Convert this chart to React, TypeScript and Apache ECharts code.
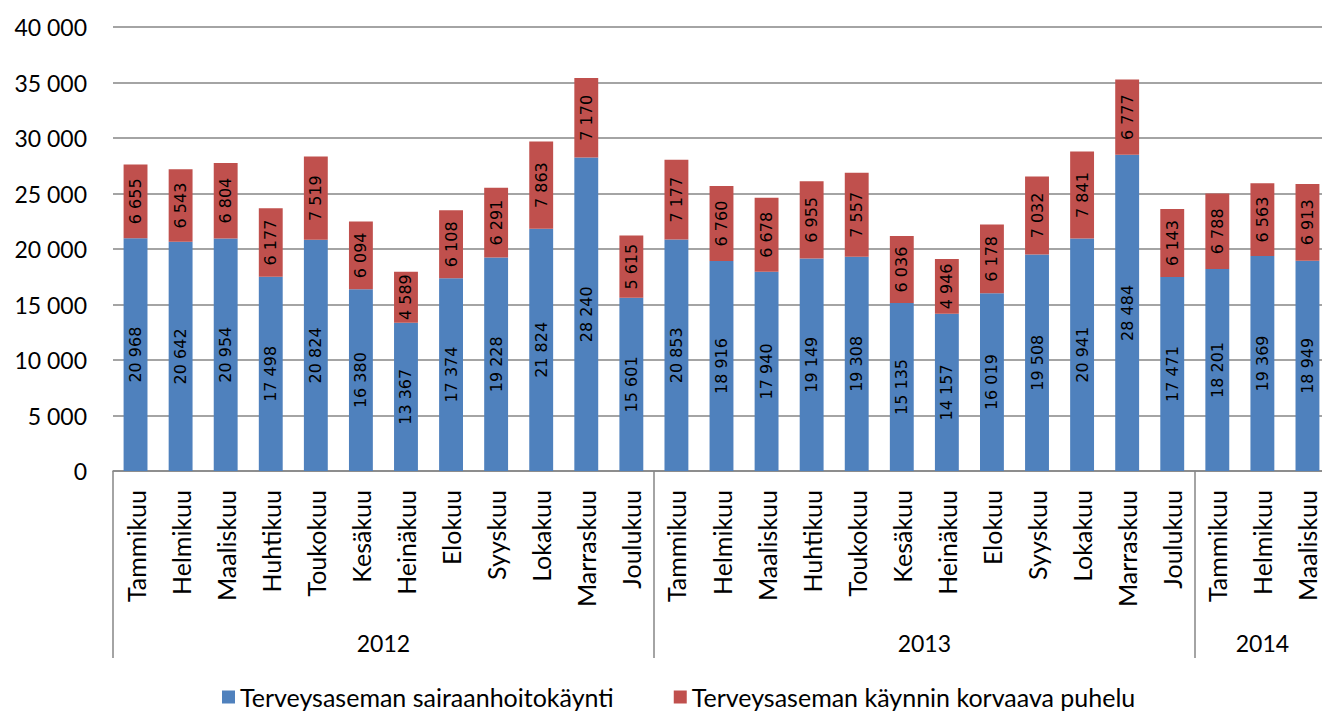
import React, { useEffect, useRef } from "react";
import * as echarts from "echarts";

const months = [
  "Tammikuu", "Helmikuu", "Maaliskuu", "Huhtikuu", "Toukokuu", "Kesäkuu",
  "Heinäkuu", "Elokuu", "Syyskuu", "Lokakuu", "Marraskuu", "Joulukuu",
];
const categories = [...months, ...months, ...months.slice(0, 3)];
const years = ["2012", "2013", "2014"];
const yearBounds = [0, 12, 24, 27];
const yearCenters = [6, 18, 25.5];

const visits = [
  20968, 20642, 20954, 17498, 20824, 16380, 13367, 17374, 19228, 21824, 28240, 15601,
  20853, 18916, 17940, 19149, 19308, 15135, 14157, 16019, 19508, 20941, 28484, 17471,
  18201, 19369, 18949,
];
const calls = [
  6655, 6543, 6804, 6177, 7519, 6094, 4589, 6108, 6291, 7863, 7170, 5615,
  7177, 6760, 6678, 6955, 7557, 6036, 4946, 6178, 7032, 7841, 6777, 6143,
  6788, 6563, 6913,
];

const seriesNames = [
  "Terveysaseman sairaanhoitokäynti",
  "Terveysaseman käynnin korvaava puhelu",
];

const fmt = (v: number) => String(Math.round(v)).replace(/\B(?=(\d{3})+(?!\d))/g, " ");

const FONT = "Lato";
const GRAY = "#868686";

export default function App() {
  const ref = useRef<HTMLDivElement>(null);
  useEffect(() => {
    if (!ref.current) return;
    const chart = echarts.init(ref.current, undefined, { renderer: "svg" });
    const barLabel = {
      show: true,
      position: "inside",
      rotate: 90,
      color: "#000",
      fontFamily: "DejaVu Sans",
      fontSize: 16,
      formatter: (p: any) => fmt(p.value),
    };
    chart.setOption({
      animation: false,
      backgroundColor: "#fff",
      textStyle: { fontFamily: FONT },
      grid: {
        left: 113,
        width: 1217,
        top: 27,
        bottom: 240,
        containLabel: false,
        outerBoundsMode: "none",
      },
      legend: {
        left: 217,
        top: 679,
        icon: "rect",
        itemWidth: 13,
        itemHeight: 13,
        itemGap: 60,
        textStyle: { fontSize: 25, lineHeight: 26, color: "#000", fontFamily: FONT },
        data: seriesNames,
      },
      xAxis: [
        {
          type: "category",
          data: categories,
          axisLine: { lineStyle: { color: GRAY, width: 1.5 } },
          axisTick: { show: false },
          axisLabel: {
            rotate: 90,
            interval: 0,
            margin: 19,
            fontSize: 25,
            color: "#000",
            fontFamily: FONT,
          },
        },
        {
          type: "value",
          min: 0,
          max: 27,
          position: "bottom",
          axisLine: { show: false },
          splitLine: { show: false },
          axisTick: {
            show: true,
            customValues: yearBounds,
            length: 187,
            lineStyle: { color: GRAY, width: 1.5 },
          },
          axisLabel: {
            customValues: yearCenters,
            margin: 160,
            fontSize: 23,
            color: "#000",
            fontFamily: FONT,
            formatter: (v: number) => {
              const i = yearCenters.indexOf(v);
              return i >= 0 ? years[i] : "";
            },
          },
        },
      ],
      yAxis: {
        type: "value",
        min: 0,
        max: 40000,
        interval: 5000,
        axisLine: { show: false },
        axisTick: { show: false },
        splitLine: { lineStyle: { color: GRAY, width: 1.5 } },
        axisLabel: {
          margin: 26,
          fontSize: 23,
          color: "#000",
          fontFamily: FONT,
          formatter: (v: number) => fmt(v),
        },
      },
      series: [
        {
          name: seriesNames[0],
          type: "bar",
          stack: "total",
          xAxisIndex: 0,
          barWidth: "53%",
          data: visits,
          itemStyle: { color: "#4F81BD" },
          label: barLabel,
        },
        {
          name: seriesNames[1],
          type: "bar",
          stack: "total",
          xAxisIndex: 0,
          barWidth: "53%",
          data: calls,
          itemStyle: { color: "#C0504D" },
          label: barLabel,
        },
      ],
    });
    return () => chart.dispose();
  }, []);
  return (
    <div
      ref={ref}
      style={{ position: "fixed", left: 0, top: 0, width: 1322, height: 711 }}
    />
  );
}
